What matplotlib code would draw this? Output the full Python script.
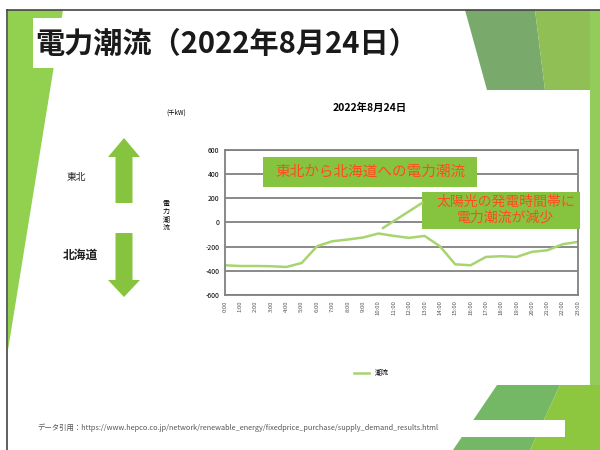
import matplotlib
matplotlib.use("Agg")
import matplotlib.pyplot as plt
from matplotlib.patches import Polygon, Rectangle

plt.rcParams['font.family'] = ['Noto Sans CJK JP', 'DejaVu Sans']

# data (千kW), hourly
hours = [f"{h}:00" for h in range(24)]
flow = [-354, -360, -360, -362, -368, -335, -196, -155, -141, -124, -91, -111,
        -127, -111, -196, -346, -354, -285, -279, -285, -243, -230, -180, -160]
yticks = [-600, -400, -200, 0, 200, 400, 600]

title = "電力潮流（2022年8月24日）"
chart_title = "2022年8月24日"
series_name = "潮流"
note1 = "東北から北海道への電力潮流"
note2 = "太陽光の発電時間帯に\n電力潮流が減少"
source = "データ引用：https://www.hepco.co.jp/network/renewable_energy/fixedprice_purchase/supply_demand_results.html"

line_green = '#a8d46f'
box_green = '#86c440'
note_red = '#ff4b1f'

W, H = 600, 450
fig = plt.figure(figsize=(6, 4.5), dpi=100)

# slide background (pixel coords, y downward)
bg = fig.add_axes([0, 0, 1, 1], zorder=0)
bg.set_xlim(0, W)
bg.set_ylim(H, 0)
bg.axis('off')

bg.add_patch(Polygon([(8, 10), (63, 10), (8, 350)], color='#92d050', lw=0))
bg.add_patch(Rectangle((33, 18), 350, 50, color='white', lw=0))
bg.add_patch(Polygon([(465, 10), (535, 10), (545, 90), (487, 90)], color='#79a96b', lw=0))
bg.add_patch(Polygon([(535, 10), (590, 10), (590, 90), (545, 90)], color='#8fbf55', lw=0))
bg.add_patch(Rectangle((590, 10), 10, 375, color='#92cc5a', lw=0))
bg.add_patch(Polygon([(497, 385), (560, 385), (530, 450), (453, 450)], color='#74b866', lw=0))
bg.add_patch(Polygon([(560, 385), (600, 385), (600, 450), (530, 450)], color='#8dc63f', lw=0))
bg.plot([7, 600], [10, 10], color='#444444', lw=1.2)
bg.plot([7, 7], [10, 450], color='#444444', lw=1.2)

bg.text(35, 44, title, fontsize=21, fontweight='bold', va='center', ha='left', color='#1a1a1a')

# up / down arrows
up = [(124, 138), (140, 157), (132.5, 157), (132.5, 203), (115.5, 203), (115.5, 157), (108, 157)]
down = [(124, 297), (140, 280), (132.5, 280), (132.5, 233), (115.5, 233), (115.5, 280), (108, 280)]
bg.add_patch(Polygon(up, color='#86c440', lw=0))
bg.add_patch(Polygon(down, color='#86c440', lw=0))
bg.text(76, 177, "東北", fontsize=7, ha='center', va='center', color='#222222')
bg.text(80, 255, "北海道", fontsize=8.5, ha='center', va='center', color='#222222', fontweight='bold')

bg.text(370, 108, chart_title, fontsize=7.5, fontweight='bold', ha='center', va='center')
bg.text(176, 113, "(千kW)", fontsize=4.5, ha='center', va='center')
bg.text(166, 216, "電\n力\n潮\n流", fontsize=5, ha='center', va='center', linespacing=1.0)

bg.add_patch(Rectangle((33, 420), 532, 17, color='white', lw=0))
bg.text(37, 428, source, fontsize=5.3, ha='left', va='center', color='#555555')

# chart
ax = fig.add_axes([225 / W, 1 - 295 / H, (578 - 225) / W, (295 - 150) / H], zorder=1)
ax.plot(range(len(hours)), flow, color=line_green, lw=1.8, label=series_name)
ax.set_xlim(0, len(hours) - 1)
ax.set_ylim(-600, 600)
ax.set_yticks(yticks)
ax.set_yticklabels([str(v) for v in yticks], fontsize=5)
ax.set_xticks(range(len(hours)))
ax.set_xticklabels(hours, rotation=90, fontsize=4.3, color='#555555')
ax.tick_params(length=0, pad=4)
ax.grid(axis='y', color='#808080', lw=1.3)
for s in ax.spines.values():
    s.set_color('#808080')
    s.set_linewidth(1.3)

fig.legend(loc='center', bbox_to_anchor=(371 / W, 1 - 373 / H), frameon=False,
           fontsize=5, handlelength=2.2)

# callouts
fg = fig.add_axes([0, 0, 1, 1], zorder=2)
fg.set_xlim(0, W)
fg.set_ylim(H, 0)
fg.axis('off')
fg.patch.set_alpha(0)

fg.add_patch(Rectangle((263, 157), 214, 30, color=box_green, lw=0))
fg.text(370, 172, note1, fontsize=10.5, color=note_red, ha='center', va='center')
fg.plot([422, 383], [203, 228], color=line_green, lw=1.8)
fg.add_patch(Rectangle((422, 192), 158, 37, color=box_green, lw=0))
fg.text(506, 210, note2, fontsize=10, color=note_red, ha='center', va='center', linespacing=1.15)

fig.savefig("out.png", dpi=100)
